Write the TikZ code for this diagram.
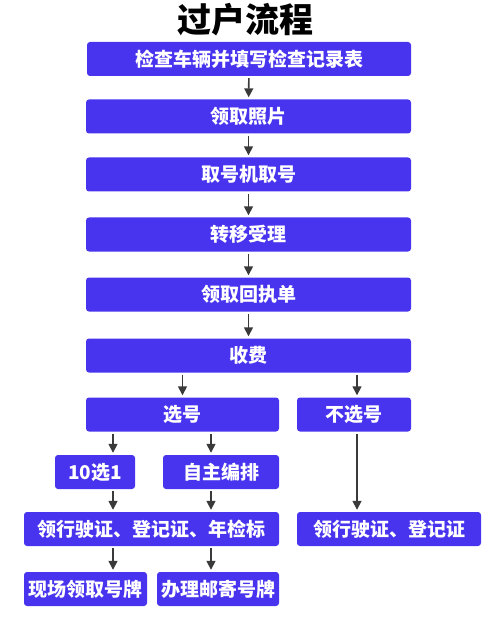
\documentclass[tikz,border=0pt]{standalone}
\usepackage{fontspec}
\newfontfamily\cjk{Noto Sans CJK SC}
\usetikzlibrary{arrows.meta}
\definecolor{boxblue}{RGB}{72,52,238}
\definecolor{arrgray}{RGB}{58,58,58}

\begin{document}
\begin{tikzpicture}[x=1pt,y=-1pt,
  box/.style={fill=boxblue,rounded corners=3pt,text=white,inner sep=0pt,
    minimum height=34pt,font=\cjk\bfseries\fontsize{19}{19}\selectfont},
  arr/.style={draw=arrgray,line width=1.6pt,-{Triangle[length=9pt,width=9pt]},
    shorten <=2pt,shorten >=2pt}]
\useasboundingbox (0,0) rectangle (500,617);

\node(title) at (245,20) {\cjk\bfseries\fontsize{34}{34}\selectfont 过户流程};

% main column
\node(jc) at (249,59)[box,minimum width=324pt]{检查车辆并填写检查记录表};
\node(zp) at (248.5,116.5)[box,minimum width=325pt]{领取照片};
\node(qh) at (248.5,174.5)[box,minimum width=325pt]{取号机取号};
\node(zy) at (248.5,234.5)[box,minimum width=325pt]{转移受理};
\node(hz) at (248.5,294.5)[box,minimum width=325pt]{领取回执单};
\node(sf) at (248.5,355.5)[box,minimum width=325pt]{收费};

% two branches
\node(xh) at (182.5,414.5)[box,minimum width=193pt]{选号};
\node(bx) at (354,414.5)[box,minimum width=114pt]{不选号};

\node(s1) at (95,472)[box,minimum width=80pt]{10选1};
\node(zz) at (221,472)[box,minimum width=116pt]{自主编排};

\node(lz) at (151.5,529)[box,minimum width=255pt]{领行驶证、登记证、年检标};
\node(ly) at (389,529)[box,minimum width=184pt]{领行驶证、登记证};

\node(xc) at (85.5,589)[box,minimum width=123pt]{现场领取号牌};
\node(yj) at (218,589)[box,minimum width=122pt]{办理邮寄号牌};

% arrow columns
\coordinate(c1) at (113,0);
\coordinate(c2) at (211,0);
\coordinate(c3) at (357,0);

\draw[arr] (jc) -- (zp);
\draw[arr] (zp) -- (qh);
\draw[arr] (qh) -- (zy);
\draw[arr] (zy) -- (hz);
\draw[arr] (hz) -- (sf);

\draw[arr] (sf.south -| xh.north) -- (xh.north);
\draw[arr] (sf.south -| c3) -- (bx.north -| c3);

\draw[arr] (xh.south -| c1) -- (s1.north -| c1);
\draw[arr] (xh.south -| c2) -- (zz.north -| c2);
\draw[arr] (bx.south -| c3) -- (ly.north -| c3);

\draw[arr] (s1.south -| c1) -- (lz.north -| c1);
\draw[arr] (zz.south -| c2) -- (lz.north -| c2);

\draw[arr] (lz.south -| c1) -- (xc.north -| c1);
\draw[arr] (lz.south -| c2) -- (yj.north -| c2);

\end{tikzpicture}
\end{document}
